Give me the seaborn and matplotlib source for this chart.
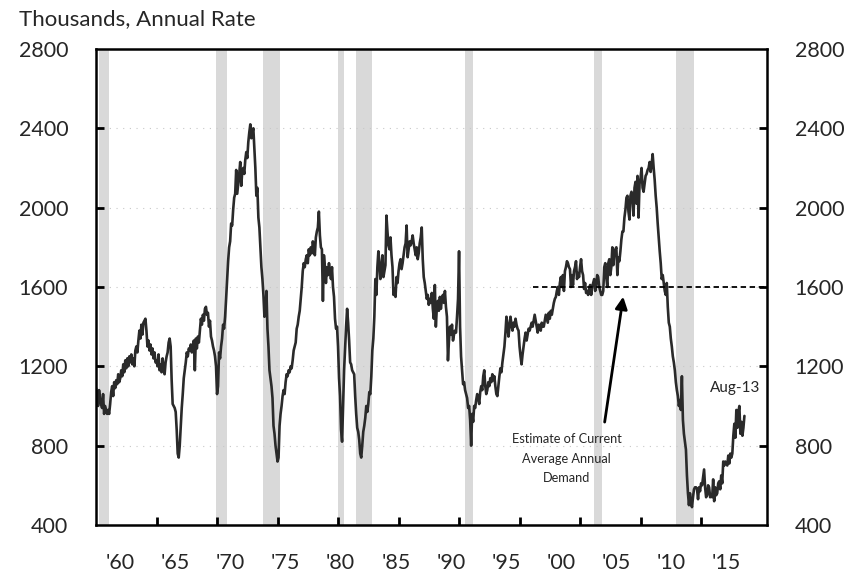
import numpy as np
import pandas as pd
import seaborn as sns
import matplotlib.pyplot as plt
import matplotlib.transforms as mtransforms

# housing starts, thousands (SAAR), monthly
starts_1960s = [
    1090, 1060, 1000, 1080, 1040, 1010, 990, 1060, 960, 1000, 980, 960,
    980, 960, 1010, 1070, 1100, 1050, 1120, 1090, 1130, 1110, 1160, 1120,
    1140, 1180, 1150, 1210, 1170, 1230, 1190, 1240, 1200, 1250, 1220, 1260,
    1210, 1240, 1200, 1280, 1300, 1270, 1330, 1380, 1340, 1410, 1360, 1420,
    1430, 1440, 1380, 1300, 1330, 1280, 1310, 1260, 1290, 1240, 1270, 1220,
    1230, 1200, 1260, 1180, 1210, 1170, 1240, 1190, 1160, 1220, 1250, 1270,
    1320, 1340, 1300, 1130, 1010, 1000, 990, 970, 880, 760, 740, 800,
    900, 990, 1060, 1140, 1180, 1220, 1270, 1250, 1290, 1280, 1310, 1270,
    1300, 1330, 1180, 1340, 1290, 1350, 1320, 1380, 1440, 1410, 1460, 1430,
    1490, 1500, 1460, 1470, 1400, 1430, 1350, 1330, 1300, 1280, 1250, 1200,
]
starts_1970s = [
    1060, 1100, 1270, 1240, 1300, 1340, 1410, 1390, 1450, 1540, 1640, 1730,
    1800, 1830, 1920, 1910, 1990, 2050, 2070, 2190, 2070, 2120, 2170, 2230,
    2110, 2180, 2200, 2170, 2240, 2280, 2250, 2330, 2380, 2420, 2350, 2380,
    2400, 2300, 2200, 2060, 2100, 1950, 1900, 1800, 1700, 1640, 1560, 1450,
    1460, 1580, 1390, 1300, 1180, 1140, 1100, 1040, 900, 860, 800, 760,
    720, 740, 900, 960, 1000, 1050, 1080, 1060, 1120, 1160, 1150, 1180,
    1170, 1200, 1190, 1230, 1280, 1300, 1320, 1390, 1410, 1450, 1480, 1540,
    1600, 1680, 1720, 1700, 1740, 1760, 1720, 1790, 1760, 1800, 1770, 1830,
    1800, 1760, 1850, 1880, 1900, 1980, 1860, 1800, 1790, 1530, 1760, 1700,
    1620, 1700, 1660, 1720, 1680, 1640, 1700, 1600, 1550, 1440, 1390, 1400,
]
starts_1980s = [
    1300, 1140, 1050, 880, 820, 1000, 1180, 1290, 1400, 1490, 1420, 1330,
    1220, 1210, 1180, 1170, 1160, 1050, 960, 890, 870, 830, 760, 740,
    800, 870, 900, 940, 1000, 970, 1010, 1070, 1060, 1150, 1280, 1340,
    1450, 1640, 1560, 1700, 1780, 1720, 1640, 1690, 1760, 1650, 1680, 1710,
    1960, 1880, 1810, 1790, 1850, 1760, 1700, 1560, 1590, 1550, 1650, 1620,
    1680, 1720, 1740, 1690, 1720, 1760, 1800, 1820, 1910, 1750, 1790, 1830,
    1810, 1830, 1860, 1820, 1790, 1760, 1800, 1740, 1770, 1820, 1850, 1900,
    1740, 1650, 1620, 1580, 1540, 1560, 1510, 1540, 1520, 1570, 1490, 1440,
    1610, 1400, 1500, 1530, 1480, 1550, 1490, 1540, 1560, 1520, 1580, 1500,
    1450, 1230, 1330, 1400, 1360, 1410, 1330, 1360, 1380, 1370, 1450, 1540,
]
starts_1990s = [
    1780, 1400, 1250, 1180, 1110, 1120, 1080, 1060, 1040, 990, 1000, 930,
    800, 960, 920, 1000, 990, 1030, 1060, 1040, 1010, 1070, 1100, 1080,
    1150, 1180, 1100, 1060, 1080, 1120, 1100, 1140, 1120, 1160, 1130, 1150,
    1100, 1060, 1050, 1100, 1150, 1190, 1170, 1220, 1260, 1300, 1370, 1450,
    1410, 1350, 1400, 1450, 1410, 1380, 1420, 1400, 1440, 1410, 1390, 1380,
    1300, 1250, 1210, 1260, 1300, 1340, 1370, 1330, 1360, 1390, 1380, 1400,
    1420, 1400, 1430, 1460, 1430, 1400, 1370, 1410, 1390, 1380, 1420, 1400,
    1400, 1430, 1460, 1440, 1420, 1470, 1440, 1480, 1460, 1490, 1520, 1540,
    1550, 1580, 1600, 1560, 1620, 1650, 1600, 1660, 1580, 1680, 1700, 1730,
    1720, 1700, 1690, 1600, 1660, 1610, 1680, 1700, 1730, 1640, 1670, 1650,
]
starts_2000s = [
    1700, 1740, 1680, 1660, 1590, 1620, 1570, 1580, 1560, 1590, 1610, 1560,
    1600, 1620, 1640, 1580, 1610, 1660, 1650, 1600, 1580, 1560, 1560, 1580,
    1700, 1720, 1650, 1600, 1720, 1740, 1660, 1700, 1800, 1710, 1770, 1790,
    1800, 1660, 1750, 1730, 1780, 1840, 1880, 1880, 1950, 1990, 2050, 2060,
    1980, 1940, 2060, 2080, 2050, 1960, 2100, 2130, 2020, 2160, 1950, 2120,
    2150, 2200, 2100, 2080, 2120, 2160, 2170, 2190, 2200, 2230, 2180, 2220,
    2270, 2200, 2140, 2060, 2000, 1920, 1850, 1780, 1720, 1640, 1660, 1620,
    1580, 1560, 1620, 1500, 1420, 1400, 1340, 1300, 1250, 1220, 1180, 1120,
    1080, 1050, 1000, 1030, 980, 1150, 930, 860, 820, 780, 650, 560,
    500, 560, 510, 490, 540, 580, 590, 590, 580, 530, 590, 570,
]
starts_2010s = [
    610, 600, 640, 680, 590, 540, 550, 600, 590, 540, 550, 540,
    630, 520, 590, 550, 560, 610, 620, 580, 650, 610, 720, 700,
    720, 710, 700, 750, 710, 760, 740, 760, 850, 910, 840, 980,
    890, 970, 1000, 860, 920, 850, 890, 950,
]

year_labels = ["'60", "'65", "'70", "'75", "'80", "'85",
               "'90", "'95", "'00", "'05", "'10", "'15"]
recessions = [(1960.25, 1961.08), (1969.92, 1970.83), (1973.83, 1975.17),
              (1980.0, 1980.5), (1981.5, 1982.83), (1990.5, 1991.17),
              (2001.17, 2001.83), (2007.92, 2009.42)]
demand_level = 1600
demand_from = 1996.1
x_ticks = list(range(1965, 2011, 5))
y_ticks = list(range(400, 2801, 400))

values = starts_1960s + starts_1970s + starts_1980s + starts_1990s + starts_2000s + starts_2010s
df = pd.DataFrame({"date": 1960 + np.arange(len(values)) / 12, "starts": values})

sns.set_style("ticks")
plt.rcParams["font.family"] = ["Lato", "DejaVu Sans"]

fig, ax = plt.subplots(figsize=(8.62, 5.83), dpi=100)
fig.subplots_adjust(left=0.1114, right=0.8898, top=0.916, bottom=0.0995)

x_end = 2015.45
for a, b in recessions:
    ax.axvspan(a, b, color="#d9d9d9", lw=0, zorder=0)
for v in y_ticks[1:-1]:
    ax.axhline(v, color="#c8c8c8", ls=(0, (1, 5)), lw=0.8, zorder=0.5)

sns.lineplot(data=df, x="date", y="starts", ax=ax, color="#2a2a2a", lw=1.9, zorder=3)
ax.hlines(demand_level, demand_from, x_end, colors="black",
          linestyles=(0, (3, 2)), lw=1.3, zorder=4)

ax.annotate("", xy=(2003.6, 1565), xytext=(2002.0, 905),
            arrowprops=dict(arrowstyle="-|>", color="black", lw=2, mutation_scale=18))
ax.text(1998.9, 735, "Estimate of Current\nAverage Annual\nDemand",
        ha="center", va="center", fontsize=9.2, linespacing=1.75)
ax.text(2012.8, 1090, "Aug-13", ha="center", va="center", fontsize=11)

ax.set_xlim(1960, x_end)
ax.set_ylim(400, 2800)
ax.set_yticks(y_ticks)
ax.set_xticks([])
ax.set_xlabel("")
ax.set_ylabel("")
ax.tick_params(axis="y", length=0, left=True, right=True,
               labelleft=True, labelright=True, pad=20, labelsize=15.5)

# inward tick marks drawn as short segments on the frame
xtrans = mtransforms.blended_transform_factory(ax.transData, ax.transAxes)
ytrans = mtransforms.blended_transform_factory(ax.transAxes, ax.transData)
ax.vlines(x_ticks, 0, 0.017, transform=xtrans, colors="black", lw=2, zorder=6, clip_on=False)
ax.hlines(y_ticks[1:-1], 0, 0.012, transform=ytrans, colors="black", lw=2, zorder=6)
ax.hlines(y_ticks[1:-1], 0.988, 1, transform=ytrans, colors="black", lw=2, zorder=6)

# year labels sit between the tick marks, as in the source chart
for pos, lab in zip(np.linspace(1962.0, 2012.1, len(year_labels)), year_labels):
    ax.text(pos, -0.08, lab, transform=xtrans, ha="center", va="center", fontsize=15.5)

for s in ax.spines.values():
    s.set_visible(True)
    s.set_color("black")
    s.set_linewidth(1.8)
    s.set_zorder(7)

fig.text(0.022, 0.968, "Thousands, Annual Rate", fontsize=16, va="center", ha="left")

fig.savefig("out.png", dpi=100)
